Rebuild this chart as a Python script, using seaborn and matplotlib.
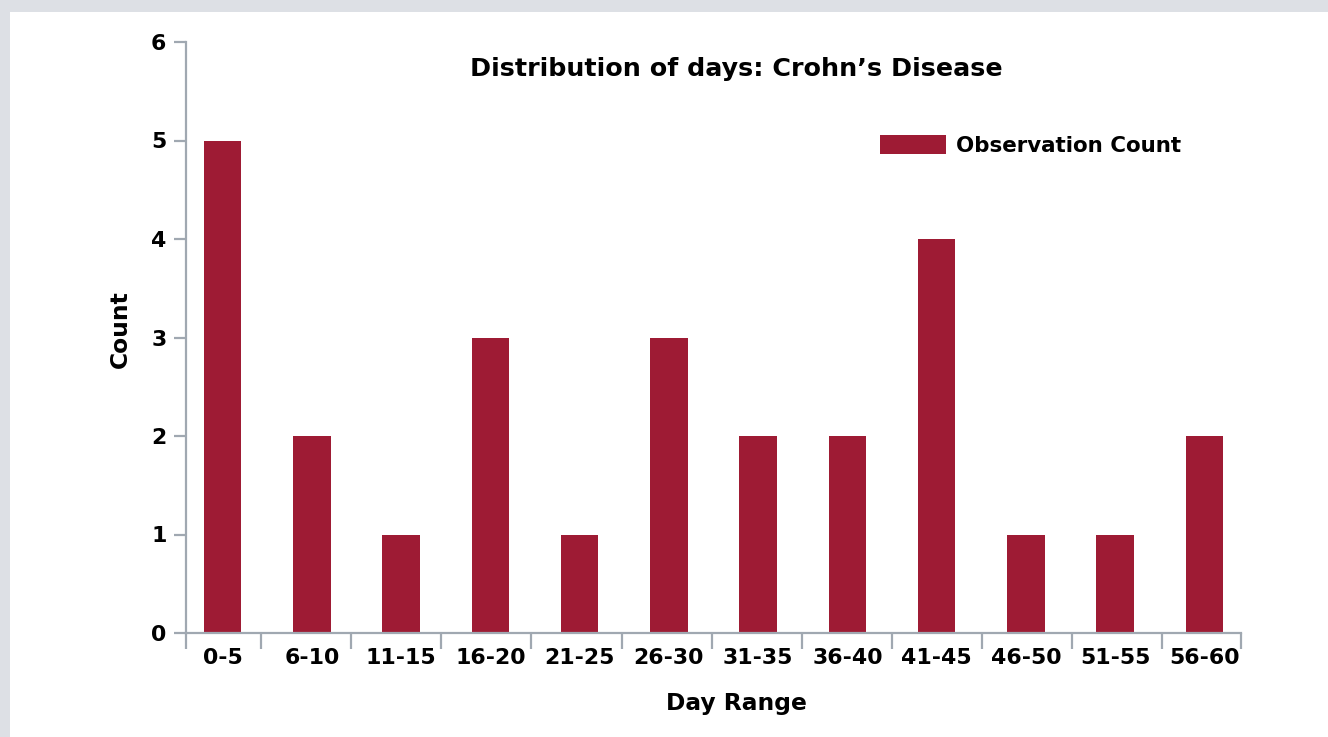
#!/usr/bin/env python3
'''
Distribution of days: Crohn's Disease - bar chart of observation counts
'''

import numpy as np
import matplotlib
matplotlib.use('Agg')
import matplotlib.pyplot as plt
from matplotlib.patches import Rectangle
import pandas as pd
import seaborn as sns

DAY_RANGES = ['0-5', '6-10', '11-15', '16-20', '21-25', '26-30',
              '31-35', '36-40', '41-45', '46-50', '51-55', '56-60']
COUNTS = [5, 2, 1, 3, 1, 3, 2, 2, 4, 1, 1, 2]
Y_TICKS = [0, 1, 2, 3, 4, 5, 6]

BAR = '#9e1b34'
AXIS = '#a0a8b1'
BAND = '#dde0e5'
FONT = 'DejaVu Sans'


def main():
    sns.set_theme(style='white')
    plt.rcParams['font.family'] = [FONT]
    plt.rcParams['text.color'] = 'black'
    plt.rcParams['xtick.labelcolor'] = 'black'
    plt.rcParams['ytick.labelcolor'] = 'black'

    fig = plt.figure(figsize=(13.28, 7.37), dpi=100)
    fig.patch.set_facecolor('white')
    # gray frame strips (top and left)
    fig.patches.append(Rectangle((0, 1 - 12 / 737), 1, 12 / 737, transform=fig.transFigure,
                                 facecolor=BAND, edgecolor='none', zorder=0))
    fig.patches.append(Rectangle((0, 0), 10 / 1328, 1, transform=fig.transFigure,
                                 facecolor=BAND, edgecolor='none', zorder=0))

    ax = fig.add_axes([186 / 1328, 104 / 737, 1055 / 1328, 591 / 737])
    ax.set_facecolor('none')

    df = pd.DataFrame({'Day Range': DAY_RANGES, 'Count': COUNTS})
    sns.barplot(data=df, x='Day Range', y='Count', color=BAR, width=0.42,
                saturation=1, linewidth=0, ax=ax, label='Observation Count')

    n = len(DAY_RANGES)
    ax.set_xlim(-0.41, n - 1 + 0.41)
    ax.set_ylim(0, 6)

    for side in ('top', 'right'):
        ax.spines[side].set_visible(False)
    for side in ('left', 'bottom'):
        ax.spines[side].set_color(AXIS)
        ax.spines[side].set_linewidth(1.6)

    ax.set_yticks(Y_TICKS)
    ax.set_yticklabels([str(t) for t in Y_TICKS], fontsize=15.8, fontweight='bold')
    ax.tick_params(axis='y', direction='out', length=8.6, width=1.6, color=AXIS,
                   pad=5.5, left=True)

    # labels under bar centres, boundary ticks as minor ticks
    ax.set_xticks(np.arange(n))
    ax.set_xticklabels(DAY_RANGES, fontsize=15.8, fontweight='bold')
    ax.tick_params(axis='x', which='major', length=0, pad=11)
    bounds = [-0.41] + list(np.linspace(0.43, 10.53, n - 1)) + [n - 1 + 0.41]
    ax.set_xticks(bounds, minor=True)
    ax.tick_params(axis='x', which='minor', direction='out', length=11.5, width=1.6,
                   color=AXIS, bottom=True)

    ax.set_xlabel('')
    ax.set_ylabel('')
    ax.text(0.522, -0.119, 'Day Range', transform=ax.transAxes, ha='center',
            va='center', fontsize=16.8, fontweight='bold')
    ax.text(-0.0626, 0.514, 'Count', transform=ax.transAxes, ha='center',
            va='center', rotation=90, fontsize=16.8, fontweight='bold')
    ax.text(0.522, 0.954, 'Distribution of days: Crohn\u2019s Disease', transform=ax.transAxes,
            ha='center', va='center', fontsize=18.3, fontweight='bold')

    ax.legend(loc='upper left', bbox_to_anchor=(0.658, 0.843), frameon=False,
              borderpad=0, borderaxespad=0, handlelength=3.08, handleheight=1.03,
              handletextpad=0.47, prop={'family': FONT, 'weight': 'bold', 'size': 15.4})

    fig.savefig('out.png', dpi=100)


if __name__ == '__main__':
    main()
